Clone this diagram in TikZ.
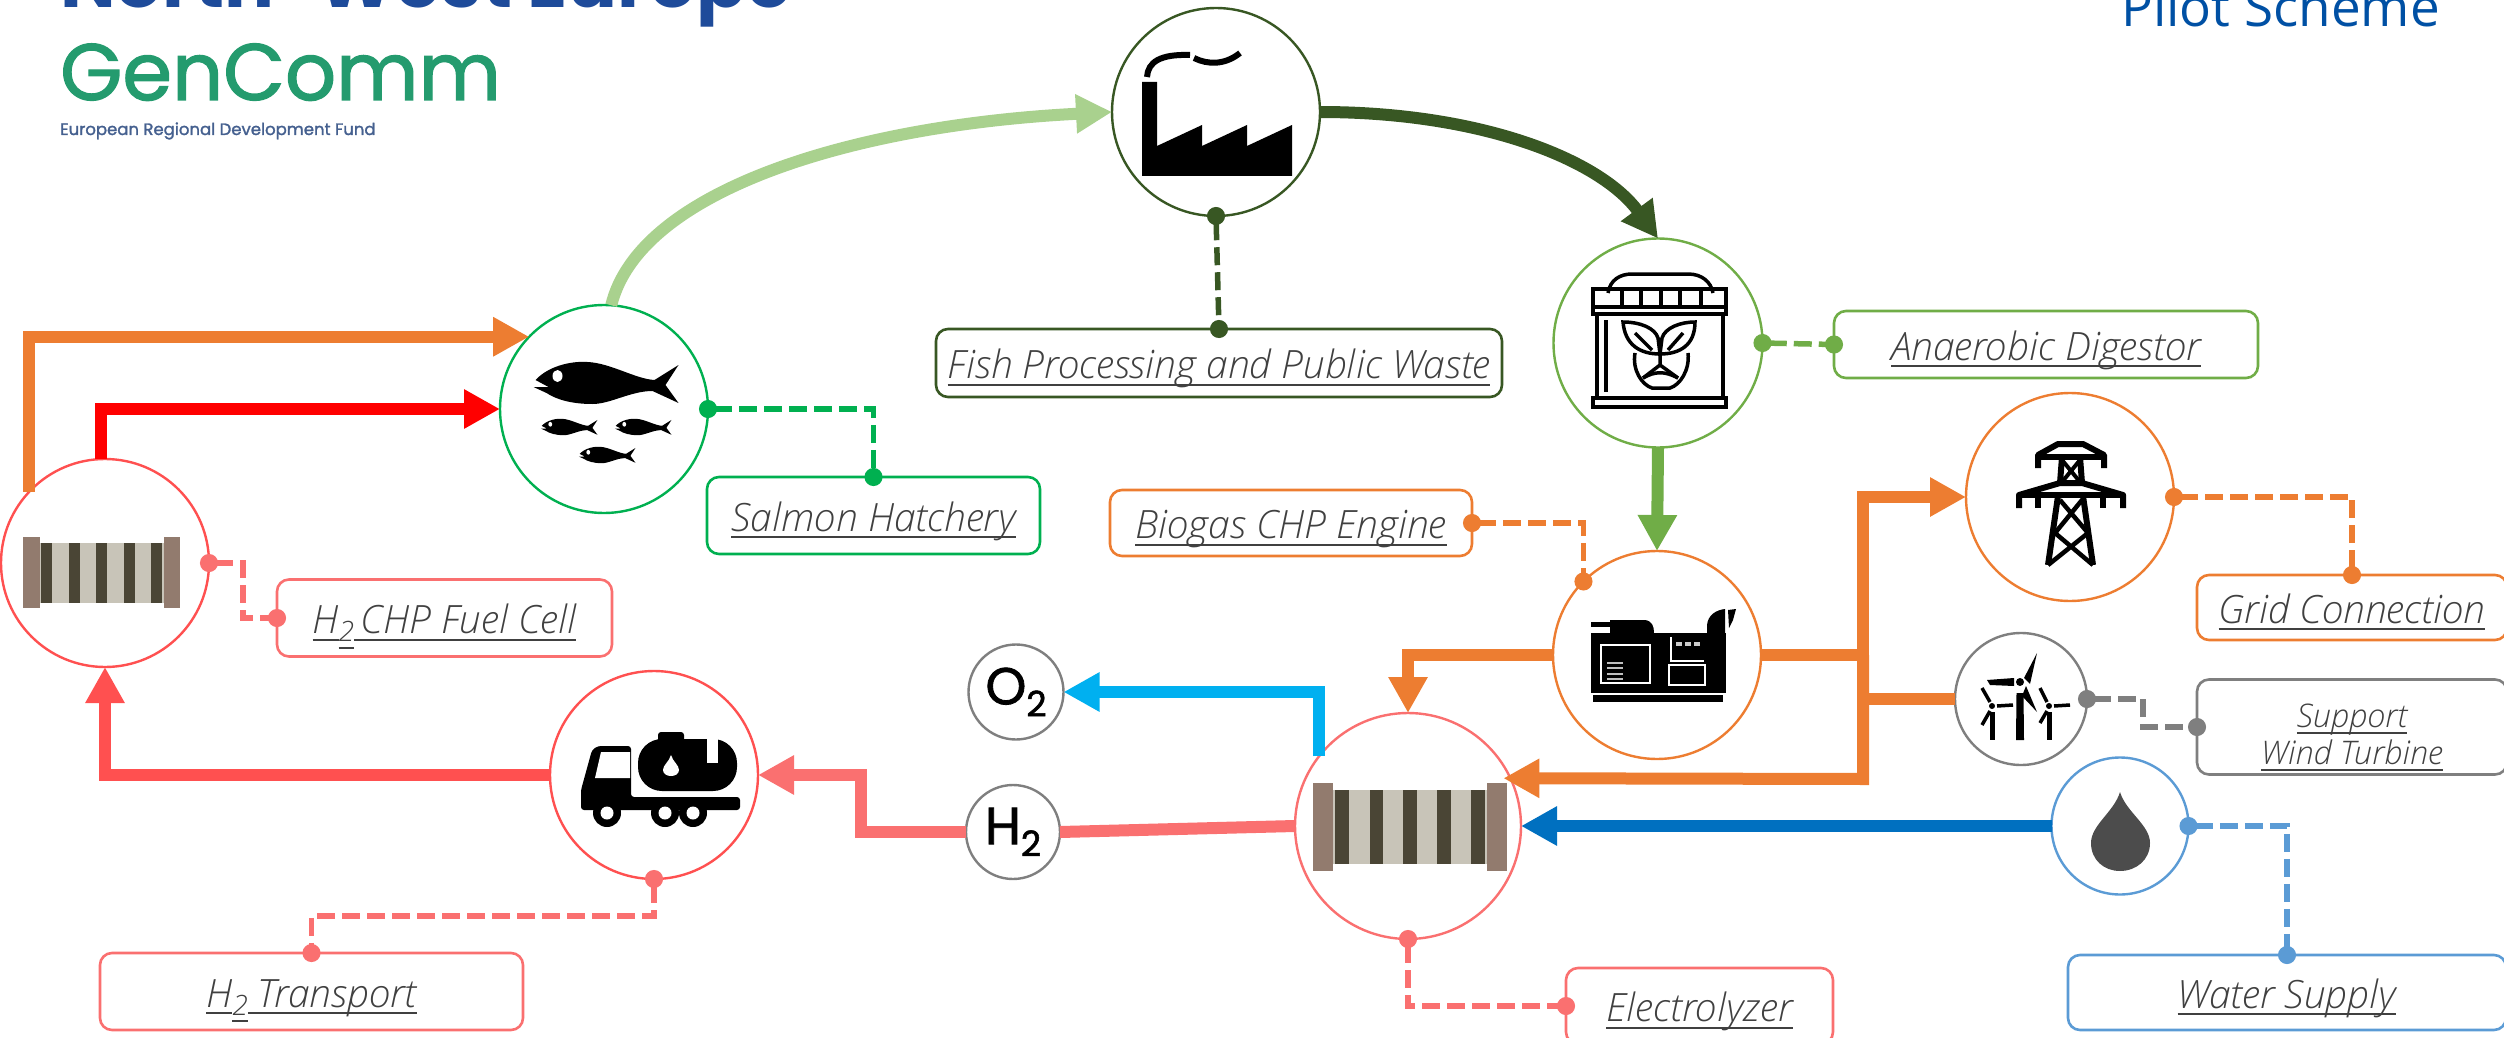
\documentclass[tikz,border=0pt]{standalone}
\usepackage{fontspec}
\setmainfont{Open Sans}[ItalicFont={Open Sans Light Italic}]
\newfontfamily\logofont{Poppins}
\newfontfamily\logoheavy{Poppins}[FakeBold=1.6]
\usetikzlibrary{arrows.meta}
\definecolor{orangeflow}{HTML}{ED7D31}
\definecolor{redflow}{HTML}{FF5050}
\definecolor{pinkflow}{HTML}{FA7070}
\definecolor{fishgreen}{HTML}{00B050}
\definecolor{paleleaf}{HTML}{A9D18E}
\definecolor{darkleaf}{HTML}{385723}
\definecolor{midleaf}{HTML}{70AD47}
\definecolor{waterblue}{HTML}{0070C0}
\definecolor{skyblue}{HTML}{00B0F0}
\definecolor{softblue}{HTML}{5B9BD5}
\definecolor{turbinegray}{HTML}{7F7F7F}
\definecolor{tagtext}{HTML}{404040}
\definecolor{platebrown}{HTML}{927B6E}
\definecolor{stackdark}{HTML}{4A4535}
\definecolor{stacklight}{HTML}{C8C4B8}
\definecolor{logonavy}{HTML}{1E4B9A}
\definecolor{logogreen}{HTML}{249B6E}
\definecolor{fundnavy}{HTML}{45608F}
\definecolor{pilotblue}{HTML}{0050A4}
\newsavebox\tagbox
\newcommand{\tagline}[1]{\sbox\tagbox{#1}\usebox\tagbox\llap{\rule[-7pt]{\wd\tagbox}{1.8pt}}}
\newcommand{\lowtwo}{\raisebox{-8pt}{\fontsize{28}{28}\selectfont\tagline{2}}}
\newcommand{\gassub}{\raisebox{-12pt}{\fontsize{35}{35}\selectfont 2}}
\tikzset{
    hub/.style={draw, circle, inner sep=0pt, outer sep=0pt, line width=2.4pt, fill=white},
    gas/.style={hub, draw=turbinegray, font=\logoheavy\fontsize{52}{52}\selectfont},
    tag/.style={draw, rectangle, rounded corners=12pt, line width=2.6pt, fill=white, inner sep=0pt, outer sep=0pt, text=tagtext, align=center, text height=45pt, text depth=14pt, font=\fontsize{39}{46}\selectfont\itshape},
    flow/.style={line width=12pt, -{Triangle[length=36pt,width=37pt]}},
    plain/.style={line width=12pt},
    lead/.style={line width=5.5pt, dash pattern=on 18pt off 7pt, {Circle[length=18pt,width=18pt]}-{Circle[length=18pt,width=18pt]}, shorten <=-9pt, shorten >=-9pt},
    logo/.style={inner sep=0pt, anchor=base west} }
\newcommand{\fishicon}[3]{\begin{scope}[shift={(#1,#2)},scale=#3]
    \fill (-70,-3) .. controls (-55,-19) and (-30,-22) .. (-18,-21) .. controls (5,-20) and (30,-4) .. (49,-3) -- (73,-18) -- (60,2) -- (73,20) -- (47,8) .. controls (25,8) and (5,21) .. (-13,21) .. controls (-35,21) and (-50,16) .. (-59,10) -- (-72,4) -- (-57,4) -- cycle;
    \fill[white] (-48,-7) ellipse (5 and 6);
\end{scope}}
\newcommand{\stackicon}[3]{\begin{scope}[shift={(#1,#2)},scale=#3]
    \fill[stacklight] (-62,-30) rectangle (62,30);
    \foreach \sx in {-60.5,-32.5,-5.5,22,49.5} \fill[stackdark] (\sx,-30) rectangle (\sx+11,30);
    \fill[platebrown] (-78.5,-35.5) rectangle (-62,35.5);
    \fill[platebrown] (62,-35.5) rectangle (78.5,35.5);
\end{scope}}

\begin{document}
\begin{tikzpicture}[x=1pt,y=-1pt]
    \useasboundingbox (0,0) rectangle (2504,1038);
    % logo and title
    \node[logo, text=logonavy, font=\logofont\bfseries\fontsize{74}{74}\selectfont] (north) at (60,8) {North-West Europe};
    \node[logo, text=logogreen, font=\logoheavy\fontsize{80}{80}\selectfont] (gencomm) at (60,100) {GenComm};
    \node[logo, text=fundnavy, font=\logoheavy\fontsize{16.5}{16.5}\selectfont] (fund) at (60,135) {European Regional Development Fund};
    \node[logo, text=pilotblue, font=\fontsize{53}{53}\selectfont] (pilot) at (2121,27) {Pilot Scheme};
    % ----
    \node[hub, draw=fishgreen, minimum size=208pt] (hatchery) at (604,409) {};
    \node[hub, draw=redflow, minimum size=208pt] (fuelcell) at (105,563) {};
    \node[hub, draw=darkleaf, minimum size=208pt] (factory) at (1216,112) {};
    \node[hub, draw=midleaf, minimum size=209pt] (digestor) at (1658,343) {};
    \node[hub, draw=orangeflow, minimum size=208pt] (genset) at (1657,655) {};
    \node[hub, draw=orangeflow, minimum size=208pt] (grid) at (2070,497) {};
    \node[hub, draw=turbinegray, minimum size=132pt] (wind) at (2021,699) {};
    \node[hub, draw=softblue, minimum size=137pt] (water) at (2120,826) {};
    \node[hub, draw=redflow, minimum size=208pt] (truck) at (654,775) {};
    \node[hub, draw=pinkflow, minimum size=226pt] (elec) at (1408,826) {};
    \node[gas, minimum size=95pt] (otwo) at (1016,692) {O\gassub};
    \node[gas, minimum size=94pt] (htwo) at (1013,832) {H\gassub};
    % ----
    \node[tag, draw=fishgreen, minimum width=333pt, minimum height=77pt] (hatchtag) at (873.5,515.5) {\tagline{Salmon Hatchery}};
    \node[tag, draw=pinkflow, minimum width=335pt, minimum height=77pt] (celltag) at (444.5,618) {\tagline{H}\lowtwo\tagline{\hspace{7pt}CHP Fuel Cell}};
    \node[tag, draw=darkleaf, minimum width=566pt, minimum height=68pt] (factorytag) at (1219,363) {\tagline{Fish Processing and Public Waste}};
    \node[tag, draw=midleaf, minimum width=424pt, minimum height=67pt] (digesttag) at (2046,344.5) {\tagline{Anaerobic Digestor}};
    \node[tag, draw=orangeflow, minimum width=362pt, minimum height=66pt] (enginetag) at (1291,523) {\tagline{Biogas CHP Engine}};
    \node[tag, draw=orangeflow, minimum width=310pt, minimum height=65pt] (gridtag) at (2352,607.5) {\tagline{Grid Connection}};
    \node[tag, draw=turbinegray, minimum width=310pt, minimum height=95pt, text height=, text depth=, font=\fontsize{32.5}{37}\selectfont\itshape] (windtag) at (2352,727) {\rule{0pt}{44pt}\tagline{Support}\\\tagline{Wind Turbine}};
    \node[tag, draw=softblue, minimum width=438pt, minimum height=75pt] (watertag) at (2287,992.5) {\tagline{Water Supply}};
    \node[tag, draw=pinkflow, minimum width=267pt, minimum height=76pt] (electag) at (1699.5,1006) {\tagline{Electrolyzer}};
    \node[tag, draw=pinkflow, minimum width=423pt, minimum height=77pt] (trucktag) at (311.5,991.5) {\tagline{H}\lowtwo\tagline{~Transport}};
    % ---- junctions of the power lines
    \coordinate (jtop) at (1863,497);
    \coordinate (jmid) at (1863,655);
    \coordinate (jwind) at (1863,699);
    \coordinate (jbot) at (1863,779);
    % ---- flows
    \draw[flow, orangeflow] (fuelcell.137) |- (hatchery.136);
    \draw[flow, red] (fuelcell.92) |- (hatchery.west);
    \draw[flow, paleleaf] (hatchery.86) .. controls +(28,-115) and +(-258,13) .. (factory.west);
    \draw[flow, darkleaf] (factory.east) .. controls +(161,0) and +(-58,-79) .. (digestor.north);
    \draw[flow, midleaf] (digestor.south) -- (genset.north);
    \draw[flow, orangeflow] (genset.west) -| (elec.north);
    \draw[plain, orangeflow] (genset.east) -- (jmid);
    \draw[flow, orangeflow] (jmid) -- (jtop) -- (grid.west);
    \draw[plain, orangeflow] (wind.west) -- (jwind);
    \draw[flow, orangeflow, shorten >=-7pt] (jmid) -- (jbot) -- (elec.25);
    \draw[flow, waterblue] (water.west) -- (elec.east);
    \draw[flow, skyblue] (elec.142) |- (otwo.east);
    \draw[plain, pinkflow] (elec.west) -- (htwo.east);
    \draw[flow, pinkflow] (htwo.west) -- ++(-105,0) |- (truck.east);
    \draw[flow, redflow] (truck.west) -| (fuelcell.south);
    % ---- label leads
    \draw[lead, fishgreen] (hatchery.east) -| (hatchtag.north);
    \draw[lead, pinkflow] (fuelcell.east) -- ++(34,0) |- (celltag.west);
    \draw[lead, darkleaf] (factory.south) -- (factorytag.north);
    \draw[lead, midleaf] (digestor.east) -- (digesttag.west);
    \draw[lead, orangeflow] (enginetag.east) -| (genset.135);
    \draw[lead, orangeflow] (grid.east) -| (gridtag.north);
    \draw[lead, turbinegray] (wind.east) -- ++(56,0) |- (windtag.west);
    \draw[lead, softblue] (water.east) -| (watertag.north);
    \draw[lead, pinkflow] (truck.south) -- ++(0,37) -| (trucktag.north);
    \draw[lead, pinkflow] (elec.south) |- (electag.west);
    % ---- icons
    \fishicon{605.5}{383}{1}
    \fishicon{569}{427}{0.39}
    \fishicon{643}{427}{0.39}
    \fishicon{607}{455}{0.39}
    \stackicon{101.5}{572.5}{1}
    \stackicon{1410}{827}{1.235}
    % factory
    \fill (1142,176) -- (1142,82) -- (1157,82) -- (1157,146) -- (1202,125) -- (1202,146) -- (1247,125) -- (1247,146) -- (1292,125) -- (1292,176) -- cycle;
    \draw[line width=6pt] (1147,77) .. controls (1148,62) and (1160,54) .. (1190,55);
    \draw[line width=6pt] (1194,58) .. controls (1208,65) and (1225,65) .. (1240,53);
    % digester
    \begin{scope}[line width=3.5pt]
        \draw (1608,293) .. controls (1610,280) and (1620,274) .. (1632,274) -- (1688,274) .. controls (1702,274) and (1711,282) .. (1713,293);
        \draw[line width=4.5pt] (1593,307) -- (1593,289) -- (1726,289) -- (1726,307);
        \foreach \px in {1622,1641,1661,1680,1701} \draw (\px,287) -- (\px,307);
        \draw (1593,307) rectangle (1726,314);
        \draw (1597,314) -- (1597,398) (1723,314) -- (1723,398);
        \draw[line width=4.5pt] (1593,398) rectangle (1726,407);
        \draw (1606,320) -- (1606,392);
        \draw (1623,322) .. controls (1640,322) and (1655,328) .. (1658,338) -- (1660,354) .. controls (1640,354) and (1625,345) .. cycle;
        \draw (1695,322) .. controls (1680,322) and (1665,328) .. (1662,338) -- (1660,354) .. controls (1680,354) and (1695,345) .. cycle;
        \draw (1635,333) -- (1652,350) (1683,333) -- (1668,350);
        \draw (1635,353) .. controls (1632,370) and (1642,385) .. (1652,388) -- (1670,388) .. controls (1680,385) and (1690,370) .. (1688,353);
        \draw (1660,354) -- (1660,365) -- (1643,378) (1660,365) -- (1678,378);
        \draw (1643,378) .. controls (1655,371) and (1665,371) .. (1678,378);
    \end{scope}
    % generator
    \fill (1591,633) rectangle (1726,693);
    \fill (1593,695) rectangle (1723,702);
    \fill (1591,622) rectangle (1612,627);
    \fill (1610,633) -- (1610,620) -- (1645,620) .. controls (1652,621) and (1654,626) .. (1654,633) -- cycle;
    \fill (1707,633) -- (1707,625) .. controls (1708,615) and (1716,610) .. (1725,609) -- (1725,633) -- cycle;
    \fill (1728,610) -- (1736,609) -- (1733,620) -- (1729,628) -- cycle;
    \draw[white, line width=1.6pt] (1601,645) rectangle (1650,683);
    \draw[white, line width=1.6pt] (1671,637) -- (1671,661) -- (1704,661);
    \draw[white, line width=1.6pt] (1669,665) rectangle (1705,685);
    \foreach \sy in {663,668,674,679} \draw[white!75!black, line width=2pt] (1607,\sy) -- (1623,\sy);
    \foreach \wx in {1676,1685,1694} \fill[white!80!black] (\wx,642) rectangle (\wx+6,646);
    % pylon
    \begin{scope}[line width=6pt, line join=round]
        \draw (2038,468) -- (2038,455) -- (2058,444) -- (2083,444) -- (2104,455) -- (2104,468);
        \draw (2038,457) -- (2104,457);
        \draw (2062,457) -- (2060,483) (2080,457) -- (2082,483);
        \draw[line width=4pt] (2062,460) -- (2080,482) (2080,460) -- (2062,482);
        \draw (2019,508) -- (2019,495) -- (2060,483) -- (2082,483) -- (2123,495) -- (2123,508);
        \draw (2019,495) -- (2123,495);
        \draw (2038,495) -- (2038,508) (2103,495) -- (2103,508);
        \draw (2058,496) -- (2048,565) (2083,496) -- (2093,565);
        \draw[line width=4.5pt] (2060,500) -- (2088,533) -- (2048,565) (2082,500) -- (2055,533) -- (2093,565);
    \end{scope}
    % turbines
    \fill (2016.5,693) -- (2023.5,693) -- (2024,740) -- (2016,740) -- cycle;
    \fill (2020,682) circle (4);
    \fill (2024,678) -- (2037,653) -- (2030,684) -- cycle;
    \fill (2014,678) -- (1987,680) -- (1990,685) -- (2014,686) -- cycle;
    \fill (2026,686) -- (2037,712) -- (2022,696) -- cycle;
    \fill (1989.5,712) rectangle (1994.5,740);
    \fill (1992,706) circle (3);
    \draw[line width=3.5pt] (1990,702) -- (1982,688) (1997,706) -- (2013,705) (1990,711) -- (1982,725);
    \fill (2046.5,712) rectangle (2051.5,740);
    \fill (2049,706) circle (3);
    \draw[line width=3.5pt] (2047,702) -- (2040,688) (2054,706) -- (2070,705) (2047,711) -- (2040,723);
    % drop
    \fill[black!70] (2120,792) .. controls (2126,812) and (2150,825) .. (2150,843) .. controls (2150,860) and (2136,871) .. (2120,871) .. controls (2104,871) and (2091,860) .. (2091,843) .. controls (2091,825) and (2114,812) .. cycle;
    % truck
    \fill[rounded corners=3pt] (581,810) -- (581,790) -- (592,750) -- (598,746) -- (631,746) -- (631,797) -- (740,797) -- (740,810) -- cycle;
    \fill[white] (595,778) -- (601,752) -- (630,752) -- (630,778) -- cycle;
    \fill[rounded corners=24pt] (638,791) -- (638,739) -- (737,739) -- (737,791) -- cycle;
    \fill[rounded corners=3pt] (658,745) rectangle (684,732);
    \fill[white] (707,737) -- (718,737) -- (718,763) -- (707,763) -- cycle;
    \fill[white] (671,755) .. controls (673,762) and (679,765) .. (679,770) .. controls (679,778) and (663,778) .. (663,770) .. controls (663,765) and (669,762) .. cycle;
    \foreach \wx in {607,665,693} {
        \fill (\wx,813) circle (14);
        \fill[white] (\wx,813) circle (6.5);
    }
\end{tikzpicture}
\end{document}
